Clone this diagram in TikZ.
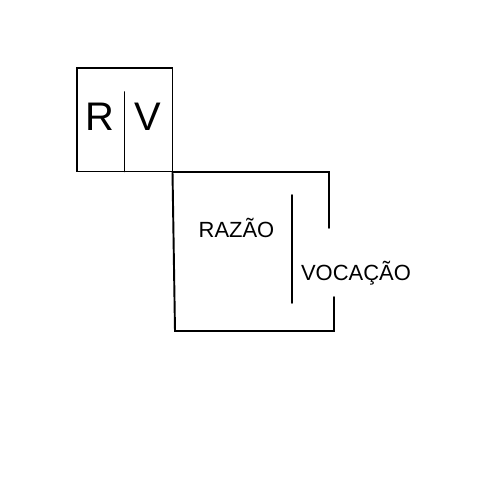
\documentclass[tikz,border=0pt]{standalone}
\usepackage{fontspec}
\setmainfont{Liberation Sans}
\begin{document}
\begin{tikzpicture}[x=0.02cm,y=-0.02cm,
  stroke/.style={line width=1.1pt,line cap=round,line join=miter},
  big/.style={inner sep=0pt,anchor=base,font=\fontsize{22.7pt}{24pt}\selectfont},
  small/.style={inner sep=0pt,anchor=base,font=\fontsize{12.5pt}{14pt}\selectfont}]
\useasboundingbox (0,0) rectangle (500,500);
% small box
\coordinate (s1) at (77,68);
\coordinate (s2) at (172.5,171.5);
\draw[stroke] (s1) rectangle (s2);
\coordinate (d1) at (124.5,92);
\coordinate (d2) at (124.5,171.5);
\draw[stroke] (d1) -- (d2);
\node[big] (r) at (100,131) {R};
\node[big] (v) at (148,131) {V};
% big open box
\coordinate (a) at (329,228);
\coordinate (b) at (329,172);
\coordinate (c) at (172.5,172);
\coordinate (e) at (175,331);
\coordinate (f) at (334,331);
\coordinate (g) at (334,297);
\draw[stroke] (a) -- (b) -- (c) -- (e) -- (f) -- (g);
\coordinate (m1) at (292,195);
\coordinate (m2) at (292,303);
\draw[stroke] (m1) -- (m2);
\node[small] (razao) at (236.5,237.7) {RAZÃO};
\node[small] (vocacao) at (356,280) {VOCAÇÃO};
\end{tikzpicture}
\end{document}
